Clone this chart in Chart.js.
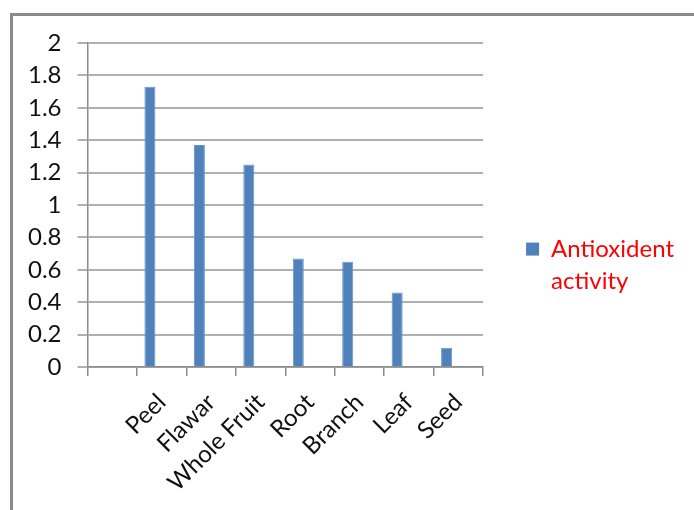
<!DOCTYPE html>
<html>
<head>
<meta charset="utf-8">
<script src="https://cdn.jsdelivr.net/npm/chart.js@4"></script>
<style>
  html, body { margin: 0; padding: 0; background: #ffffff; }
  #wrap { position: relative; width: 694px; height: 510px; overflow: hidden; }
  #frame { position: absolute; left: 10px; top: 13px; width: 800px; height: 600px;
           border-top: 3px solid #8a8a8a; border-left: 3px solid #8a8a8a; box-sizing: border-box; }
  #c { position: absolute; left: 0; top: 0; }
</style>
</head>
<body>
<div id="wrap">
  <div id="frame"></div>
  <canvas id="c" width="694" height="510"></canvas>
</div>
<script>
// Plant parts (first slot of the category axis is left blank)
const categories = ["", "Peel", "Flawar", "Whole Fruit", "Root", "Branch", "Leaf", "Seed"];
// Antioxidant activity per plant part
const antioxidentActivity = [null, 1.73, 1.37, 1.25, 0.67, 0.65, 0.46, 0.12];
// Second (empty) series of the original sheet; keeps the bars on the left of each slot
const emptySeries = [null, null, null, null, null, null, null, null];
const seriesName = ["Antioxident", "activity"];
const yTickLabels = ["0", "0.2", "0.4", "0.6", "0.8", "1", "1.2", "1.4", "1.6", "1.8", "2"];

const FONT = "Lato, 'Open Sans', sans-serif";
const TEXT_SIZE = 24;

new Chart(document.getElementById("c"), {
  type: "bar",
  data: {
    labels: categories,
    datasets: [
      {
        label: "Antioxident activity",
        data: antioxidentActivity,
        backgroundColor: "#4f81bd",
        borderColor: "#6a95c8",
        borderWidth: 1,
        categoryPercentage: 0.95,
        barPercentage: 0.47
      },
      {
        label: "",
        data: emptySeries,
        backgroundColor: "#c0504d",
        categoryPercentage: 0.95,
        barPercentage: 0.47
      }
    ]
  },
  options: {
    responsive: false,
    animation: false,
    devicePixelRatio: 1,
    layout: { padding: { left: 12, top: 29, right: 10, bottom: 1 } },
    plugins: {
      tooltip: { enabled: false },
      legend: {
        position: "right",
        align: "center",
        labels: {
          font: { family: FONT, size: TEXT_SIZE, lineHeight: 1.33 },
          color: "#ff0000",
          boxWidth: 13,
          boxHeight: 13,
          padding: 10,
          generateLabels: (chart) => [{
            text: seriesName,
            fillStyle: "#4f81bd",
            strokeStyle: "#4f81bd",
            lineWidth: 0,
            fontColor: "#ff0000",
            datasetIndex: 0
          }]
        }
      }
    },
    scales: {
      x: {
        offset: true,
        grid: {
          offset: true,
          drawOnChartArea: false,
          drawTicks: true,
          tickLength: 9,
          color: "#8c8c8c",
          lineWidth: 1.5
        },
        border: { color: "#8c8c8c", width: 1.5 },
        ticks: {
          font: { family: FONT, size: TEXT_SIZE },
          color: "#111111",
          minRotation: 45,
          maxRotation: 45,
          autoSkip: false,
          padding: 12
        }
      },
      y: {
        min: 0,
        max: 2,
        grid: {
          color: "#b0b0b0",
          lineWidth: 2,
          tickLength: 10,
          drawTicks: true
        },
        border: { color: "#8c8c8c", width: 1.5 },
        ticks: {
          stepSize: 0.2,
          autoSkip: false,
          font: { family: FONT, size: TEXT_SIZE },
          color: "#111111",
          padding: 16,
          callback: (v, i) => yTickLabels[i]
        }
      },
      // hidden spacer above the plot
      topGap: {
        type: "linear",
        position: "top",
        display: false,
        afterFit: (scale) => { scale.height = 14; }
      },
      // hidden spacer between the plot and the legend
      gap: {
        type: "linear",
        position: "right",
        display: false,
        afterFit: (scale) => { scale.width = 33; }
      }
    }
  }
});
</script>
</body>
</html>
